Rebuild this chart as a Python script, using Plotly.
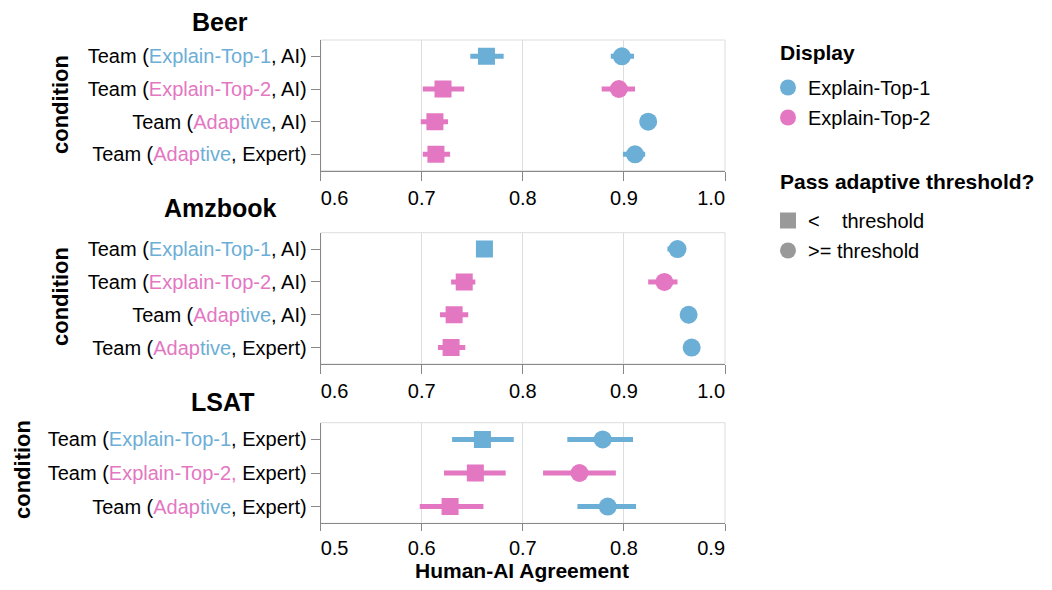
import plotly.graph_objects as go

# ---------------- data ----------------
BLUE = "#6baed6"
PINK = "#e377c2"
GRAY = "#999999"

beer_labels = ["Team (Explain-Top-1, AI)", "Team (Explain-Top-2, AI)",
               "Team (Adaptive, AI)", "Team (Adaptive, Expert)"]
beer_below_mean = [0.764, 0.721, 0.713, 0.714]
beer_below_lo = [0.748, 0.701, 0.699, 0.701]
beer_below_hi = [0.781, 0.742, 0.726, 0.728]
beer_below_display = ["Explain-Top-1", "Explain-Top-2", "Explain-Top-2", "Explain-Top-2"]
beer_above_mean = [0.898, 0.895, 0.924, 0.911]
beer_above_lo = [0.887, 0.878, 0.920, 0.899]
beer_above_hi = [0.910, 0.911, 0.928, 0.921]
beer_above_display = ["Explain-Top-1", "Explain-Top-2", "Explain-Top-1", "Explain-Top-1"]

amz_labels = ["Team (Explain-Top-1, AI)", "Team (Explain-Top-2, AI)",
              "Team (Adaptive, AI)", "Team (Adaptive, Expert)"]
amz_below_mean = [0.762, 0.742, 0.732, 0.729]
amz_below_lo = [0.755, 0.729, 0.718, 0.716]
amz_below_hi = [0.769, 0.753, 0.746, 0.743]
amz_below_display = ["Explain-Top-1", "Explain-Top-2", "Explain-Top-2", "Explain-Top-2"]
amz_above_mean = [0.953, 0.940, 0.964, 0.967]
amz_above_lo = [0.943, 0.924, 0.960, 0.963]
amz_above_hi = [0.961, 0.953, 0.968, 0.971]
amz_above_display = ["Explain-Top-1", "Explain-Top-2", "Explain-Top-1", "Explain-Top-1"]

lsat_labels = ["Team (Explain-Top-1, Expert)", "Team (Explain-Top-2, Expert)",
               "Team (Adaptive, Expert)"]
lsat_below_mean = [0.660, 0.653, 0.628]
lsat_below_lo = [0.630, 0.622, 0.598]
lsat_below_hi = [0.691, 0.683, 0.661]
lsat_below_display = ["Explain-Top-1", "Explain-Top-2", "Explain-Top-2"]
lsat_above_mean = [0.779, 0.756, 0.784]
lsat_above_lo = [0.744, 0.720, 0.754]
lsat_above_hi = [0.809, 0.792, 0.812]
lsat_above_display = ["Explain-Top-1", "Explain-Top-2", "Explain-Top-1"]

ticks_top = [0.6, 0.7, 0.8, 0.9, 1.0]
ticks_lsat = [0.5, 0.6, 0.7, 0.8, 0.9]

display_names = ["Explain-Top-1", "Explain-Top-2"]
threshold_names = ["&lt;&nbsp;&nbsp;&nbsp;&nbsp;threshold", "&gt;= threshold"]

# ---------------- styling ----------------
PAGE_OFF = 8               # default body margin of the html page
W, H = 1052 - PAGE_OFF * 2, 590 - PAGE_OFF * 2
FONT = "Liberation Sans, Arial, Helvetica, sans-serif"
COLOR_OF = {"Explain-Top-1": BLUE, "Explain-Top-2": PINK}


def px_x(p):
    return (p - PAGE_OFF) / W


def px_y(p):
    return 1 - (p - PAGE_OFF) / H


def span(txt, c):
    return f'<span style="color:{c}">{txt}</span>'


def style_label(lab):
    lab = lab.replace("Explain-Top-1,", span("Explain-Top-1", BLUE) + ",")
    if "Expert" in lab and "Explain-Top-2" in lab and "AI" not in lab:
        lab = lab.replace("Explain-Top-2,", span("Explain-Top-2,", PINK))
    else:
        lab = lab.replace("Explain-Top-2,", span("Explain-Top-2", PINK) + ",")
    lab = lab.replace("Adaptive", span("Adap", PINK) + span("tive", BLUE))
    return lab


def tick_text(vals):
    out = []
    pad = "\u00a0" * 5
    for i, v in enumerate(vals):
        s = f"{v:.1f}"
        if i == 0:
            s = pad + s
        elif i == len(vals) - 1:
            s = s + pad
        out.append(s)
    return out


fig = go.Figure()

panels = [
    ("x", "y", beer_labels,
     (beer_below_mean, beer_below_lo, beer_below_hi, beer_below_display),
     (beer_above_mean, beer_above_lo, beer_above_hi, beer_above_display)),
    ("x2", "y2", amz_labels,
     (amz_below_mean, amz_below_lo, amz_below_hi, amz_below_display),
     (amz_above_mean, amz_above_lo, amz_above_hi, amz_above_display)),
    ("x3", "y3", lsat_labels,
     (lsat_below_mean, lsat_below_lo, lsat_below_hi, lsat_below_display),
     (lsat_above_mean, lsat_above_lo, lsat_above_hi, lsat_above_display)),
]

for xa, ya, labels, below, above in panels:
    for (means, los, his, disp), symbol, size in ((below, "square", 17), (above, "circle", 18)):
        for i, m in enumerate(means):
            c = COLOR_OF[disp[i]]
            fig.add_trace(go.Scatter(
                x=[m], y=[i], xaxis=xa, yaxis=ya, mode="markers",
                marker=dict(symbol=symbol, size=size, color=c, line=dict(width=0)),
                error_x=dict(type="data", symmetric=False, array=[his[i] - m],
                             arrayminus=[m - los[i]], color=c, thickness=5, width=0),
                showlegend=False, hoverinfo="x+y",
            ))

# legend entries (one group per entry so the row gap can be tuned)
for name in display_names:
    fig.add_trace(go.Scatter(x=[None], y=[None], mode="markers", name=name,
                             marker=dict(symbol="circle", size=22, color=COLOR_OF[name]),
                             legend="legend", legendgroup=name))
for name, sym in zip(threshold_names, ["square", "circle"]):
    fig.add_trace(go.Scatter(x=[None], y=[None], mode="markers", name=name,
                             marker=dict(symbol=sym, size=22, color=GRAY),
                             legend="legend2", legendgroup=name))

x_dom = [px_x(320.7), px_x(725)]
y_doms = [[px_y(170.7), px_y(40)], [px_y(364), px_y(232.7)], [px_y(523.3), px_y(422.7)]]
x_ranges = [[0.6, 1.0], [0.6, 1.0], [0.5, 0.9]]
x_ticks = [ticks_top, ticks_top, ticks_lsat]
x_ticklens = [9, 9, 7]

axis_common = dict(showline=True, linecolor="#888888", linewidth=1,
                   ticks="outside", ticklen=9, tickcolor="#888888", tickwidth=1,
                   tickfont=dict(family=FONT, size=20, color="#000000"),
                   zeroline=False, automargin=False)

layout = dict(
    width=W, height=H, margin=dict(l=0, r=0, t=0, b=0),
    plot_bgcolor="white", paper_bgcolor="white",
    font=dict(family=FONT, size=20, color="#000000"),
)

for k in range(3):
    sx = "" if k == 0 else str(k + 1)
    labels = panels[k][2]
    layout["xaxis" + sx] = dict(
        axis_common, domain=x_dom, range=x_ranges[k], anchor="y" + sx,
        tickvals=x_ticks[k], ticktext=tick_text(x_ticks[k]), ticklen=x_ticklens[k],
        showgrid=True, gridcolor="#dddddd", gridwidth=1,
    )
    n = len(labels)
    layout["yaxis" + sx] = dict(
        axis_common, domain=y_doms[k], range=[n - 0.5, -0.5], anchor="x" + sx,
        tickvals=list(range(n)), ticktext=[style_label(l) for l in labels],
        showgrid=False,
    )

shapes = []
for k in range(3):
    sx = "" if k == 0 else str(k + 1)
    shapes.append(dict(type="rect", xref=f"x{sx} domain", yref=f"y{sx} domain",
                       x0=0, x1=1, y0=0, y1=1, line=dict(color="#dddddd", width=1),
                       layer="below"))
layout["shapes"] = shapes

ann = []
for txt, x, y in (("Beer", 220, 22), ("Amzbook", 220, 208), ("LSAT", 222, 402)):
    ann.append(dict(text=f"<b>{txt}</b>", x=px_x(x), y=px_y(y), xref="paper", yref="paper",
                    showarrow=False, xanchor="center", yanchor="middle",
                    font=dict(family=FONT, size=25, color="#000000")))
for x, y in ((60, 105), (60, 297), (22, 470)):
    ann.append(dict(text="<b>condition</b>", x=px_x(x), y=px_y(y), xref="paper", yref="paper",
                    showarrow=False, xanchor="center", yanchor="middle", textangle=-90,
                    font=dict(family=FONT, size=22, color="#000000")))
ann.append(dict(text="<b>Human-AI Agreement</b>", x=px_x(522), y=px_y(570.5), xref="paper",
                yref="paper", showarrow=False, xanchor="center", yanchor="middle",
                font=dict(family=FONT, size=21, color="#000000")))
# legend titles
for txt, y in (("Display", 52), ("Pass adaptive threshold?", 182)):
    ann.append(dict(text=f"<b>{txt}</b>", x=px_x(778), y=px_y(y), xref="paper", yref="paper",
                    showarrow=False, xanchor="left", yanchor="middle",
                    font=dict(family=FONT, size=21, color="#000000")))
layout["annotations"] = ann

legend_common = dict(xanchor="left", yanchor="top", font=dict(family=FONT, size=20),
                     bgcolor="rgba(0,0,0,0)", itemsizing="trace",
                     traceorder="grouped", tracegroupgap=1)
layout["legend"] = dict(legend_common, x=px_x(768), y=px_y(68))
layout["legend2"] = dict(legend_common, x=px_x(768), y=px_y(201))

fig.update_layout(layout)
fig.write_html("out.html")
